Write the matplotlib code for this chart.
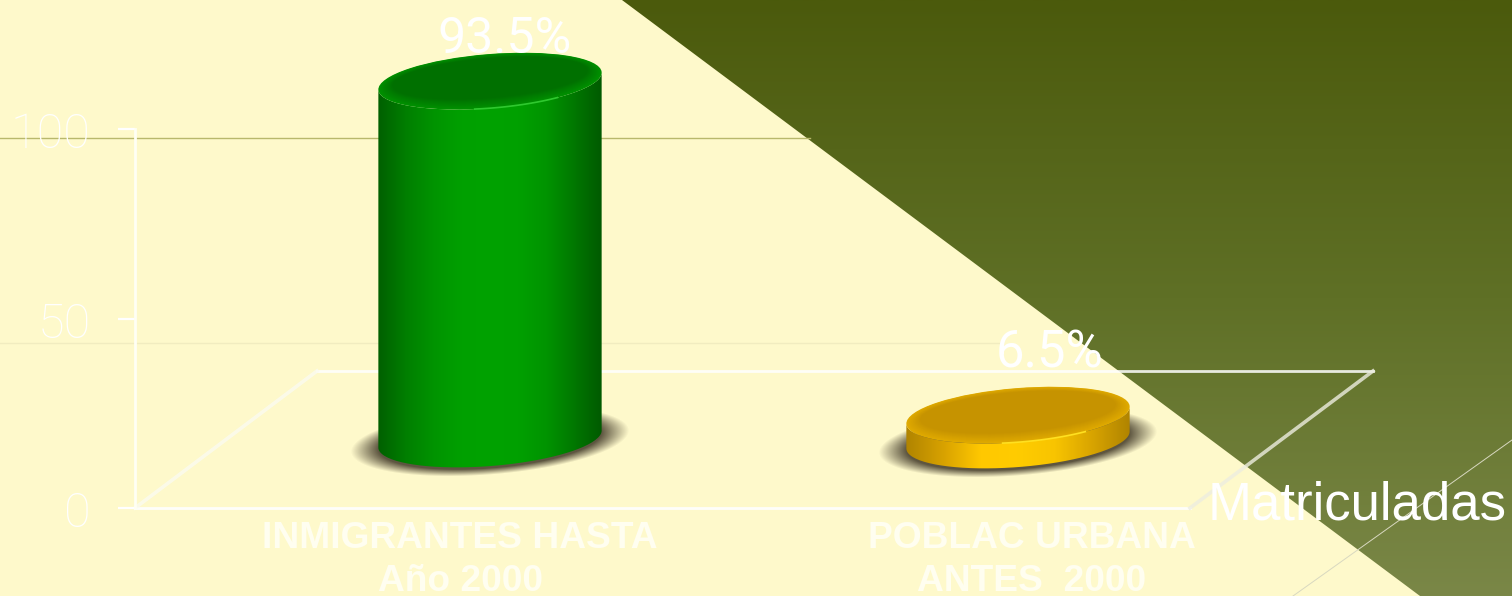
import numpy as np
import matplotlib
matplotlib.use('Agg')
import matplotlib.pyplot as plt
import matplotlib.transforms as mtrans
from matplotlib.colors import LinearSegmentedColormap, to_rgb
from matplotlib.patches import Ellipse, Polygon, PathPatch
from matplotlib.path import Path

# Values
categories = ['INMIGRANTES HASTA\nAño 2000', 'POBLAC URBANA\nANTES  2000']
values = [93.5, 6.5]
value_labels = ['93.5%', '6.5%']
y_ticks = [0, 50, 100]
series_name = 'Matriculadas'

W, H = 1512, 596
fig = plt.figure(figsize=(W / 100, H / 100), dpi=100)
ax = fig.add_axes([0, 0, 1, 1])
ax.set_xlim(0, W)
ax.set_ylim(H, 0)
ax.axis('off')

# value axes: 0 at y=508px, 100 at y=129px
ax_val = fig.add_axes([135 / W, 1 - 508 / H, (1190 - 135) / W, (508 - 129) / H])
ax_val.set_zorder(2)
ax_val.patch.set_alpha(0)
ax_val.set_ylim(0, 100)
# category 0 centred at 460px, category 1 at 1032px
ax_val.set_xlim((135 - 460) / 572, (1190 - 460) / 572)

# background
cream = '#FEF9CB'
ax.add_patch(Polygon([(0, 0), (W, 0), (W, H), (0, H)], color=cream, lw=0, zorder=0))
cm_bg = LinearSegmentedColormap.from_list('bg', ['#4B5A0C', '#5F7026', '#7A8747'])
im = ax.imshow(np.linspace(0, 1, 256).reshape(-1, 1), cmap=cm_bg, extent=[0, W, H, 0],
               aspect='auto', zorder=1)
tri = Polygon([(622, 0), (W, 0), (W, H), (1420, H)], transform=ax.transData, fc='none', lw=0)
ax.add_patch(tri)
im.set_clip_path(tri)

# faint chart lines
ax.plot([0, 810], [138, 138], color='#B8B86C', lw=1, zorder=2)
ax.plot([0, 1000], [343, 343], color='#F1ECC0', lw=1, zorder=2)
ax.plot([1293, W], [H, 440], color='#D8D8C0', lw=0.7, zorder=2)

# floor of the 3d chart
ax.plot([317, 1373], [371, 371], color='white', lw=2, alpha=0.85, zorder=3)
ax.plot([135, 1190], [508, 508], color='white', lw=2, alpha=0.9, zorder=3)
ax.plot([135, 317], [508, 371], color='#FBFBF0', lw=2.6, alpha=0.8, zorder=3)
ax.plot([1190, 1373], [508, 371], color='#EDEDE0', lw=2.6, alpha=0.8, zorder=3)


def ell_pts(cx, cy, a, b, tilt, t):
    return np.c_[cx + a * np.cos(t) * np.cos(tilt) + b * np.sin(t) * np.sin(tilt),
                 cy - a * np.cos(t) * np.sin(tilt) + b * np.sin(t) * np.cos(tilt)]


def cylinder(pos, value, base_y, shift, body_colors, top_color, rim_color, glow_color):
    a, b, deg = 112, 27, 4.6
    tilt = np.radians(deg)
    p0 = ax_val.transData.transform((pos, 0))
    p1 = ax_val.transData.transform((pos, value))
    cx = p0[0] + shift
    top_y = base_y - (p1[1] - p0[1]) * 1.01

    # soft shadow
    xs = np.linspace(cx - 165, cx + 165, 330)
    ys = np.linspace(base_y - 60, base_y + 60, 120)
    gx, gy = np.meshgrid(xs, ys)
    u = (gx - cx) * np.cos(tilt) - (gy - base_y - 2) * np.sin(tilt)
    v = (gx - cx) * np.sin(tilt) + (gy - base_y - 2) * np.cos(tilt)
    d = np.sqrt((u / 140) ** 2 + (v / 34) ** 2)
    rgba = np.zeros(d.shape + (4,))
    rgba[..., :3] = np.array([0.33, 0.30, 0.22])
    rgba[..., 3] = np.clip((1.0 - d) / 0.2, 0, 1) * 0.95
    ax.imshow(rgba, extent=[xs[0], xs[-1], ys[-1], ys[0]], aspect='auto', zorder=4)

    # body with horizontal shading
    lower = ell_pts(cx, base_y, a, b, tilt, np.linspace(np.pi, 0, 80))
    upper = ell_pts(cx, top_y, a, b, tilt, np.linspace(0, np.pi, 80))
    body = Path(np.r_[lower, upper, lower[:1]], closed=False)
    cm = LinearSegmentedColormap.from_list('body', body_colors)
    im_b = ax.imshow(np.linspace(0, 1, 256).reshape(1, -1), cmap=cm,
                     extent=[cx - a, cx + a, base_y + 40, top_y - 40],
                     aspect='auto', zorder=5)
    patch = PathPatch(body, transform=ax.transData, fc='none', lw=0)
    ax.add_patch(patch)
    im_b.set_clip_path(patch)

    # top face, rim blended into the flat colour
    rim, top = np.array(to_rgb(rim_color)), np.array(to_rgb(top_color))
    steps = 10
    for k in range(steps + 1):
        f = k / steps
        ax.add_patch(Ellipse((cx, top_y - 3 * f), 2 * a - 28 * f, 2 * b - 14 * f, angle=-deg,
                             fc=rim + (top - rim) * f, lw=0, zorder=6 + f))
    arc = ell_pts(cx, top_y, a, b, tilt, np.linspace(np.pi * 0.3, np.pi * 0.55, 30))
    ax.plot(arc[:, 0], arc[:, 1], color=glow_color, lw=1.2, zorder=8)
    return cx


styles = [
    (['#006000', '#007F00', '#009400', '#00A000', '#00A200', '#00A000', '#009400', '#007800', '#005A00'],
     '#007000', '#009000', '#2FC82F'),
    (['#B08400', '#D8A200', '#FFC800', '#FFCC00', '#F8C400', '#D8A400', '#B08400'],
     '#C69300', '#E0AA00', '#FFE020'),
]
base_ys = [439, 440]
shifts = [30, -14]
for i, val in enumerate(values):
    body_c, top_c, rim_c, glow_c = styles[i]
    cylinder(i, val, base_ys[i], shifts[i], body_c, top_c, rim_c, glow_c)

# value labels
label_xy = [(505, 39), (1050, 353)]
label_sizes = [36, 36.5]
for (x, y), txt, fs in zip(label_xy, value_labels, label_sizes):
    ax.text(x, y, txt, color='white', fontsize=fs, family='Roboto', ha='center',
            va='center', zorder=9)

# axis styling
for s in ['top', 'right', 'bottom']:
    ax_val.spines[s].set_visible(False)
ax_val.spines['left'].set_color('#FFFFF4')
ax_val.spines['left'].set_linewidth(2)
ax_val.set_yticks(y_ticks)
ax_val.set_yticklabels([str(t) for t in y_ticks], family='Roboto', fontweight='light')
ax_val.tick_params(axis='y', colors='white', labelsize=35, length=12, width=1.6, pad=20)
down = mtrans.ScaledTranslation(0, -1 / 100, fig.dpi_scale_trans)
for lab in ax_val.get_yticklabels():
    lab.set_transform(lab.get_transform() + down)
ax_val.set_xticks(range(len(categories)))
ax_val.set_xticklabels(categories, family='Liberation Sans', fontweight='bold',
                       fontsize=26.7, color='#FFFEF0', linespacing=1.31)
ax_val.tick_params(axis='x', length=0, pad=9)

ax.text(1208, 506, series_name, color='white', fontsize=38, family='Liberation Sans',
        ha='left', va='center', zorder=9)

fig.savefig('out.png', dpi=100)
